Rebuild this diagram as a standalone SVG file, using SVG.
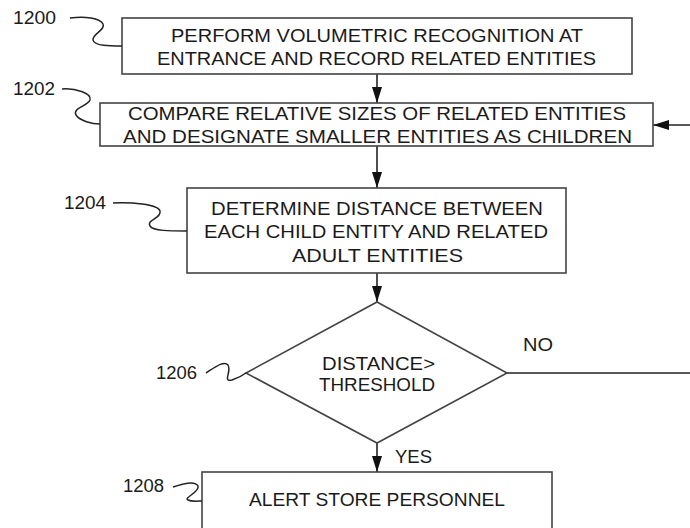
<svg xmlns="http://www.w3.org/2000/svg" width="690" height="528" viewBox="0 0 690 528">
<defs>
<style>
.box{fill:#fff;stroke:#444;stroke-width:1.6}
.t{font-family:"Liberation Sans",Arial,sans-serif;font-size:19px;fill:#1a1a1a}
.lbl{font-family:"Liberation Sans",Arial,sans-serif;font-size:18px;fill:#1a1a1a}
.ln{fill:none;stroke:#222;stroke-width:1.6}
.lead{fill:none;stroke:#222;stroke-width:1.5}
</style>
<marker id="ah" viewBox="0 0 16 10" refX="16" refY="5" markerWidth="16" markerHeight="10" markerUnits="userSpaceOnUse" orient="auto">
<path d="M0,0 L16,5 L0,10 Z" fill="#111"/>
</marker>
</defs>
<rect width="690" height="528" fill="#fff"/>
<g id="connectors">
<line class="ln" x1="377" y1="74" x2="377" y2="103" marker-end="url(#ah)"/>
<line class="ln" x1="377" y1="146" x2="377" y2="188" marker-end="url(#ah)"/>
<line class="ln" x1="377" y1="273" x2="377" y2="302" marker-end="url(#ah)"/>
<line class="ln" x1="377" y1="443" x2="377" y2="472" marker-end="url(#ah)"/>
<line class="ln" x1="507" y1="373" x2="690" y2="373"/>
<line class="ln" x1="690" y1="125" x2="653" y2="125" marker-end="url(#ah)"/>
<text class="lbl" x="523" y="351" textLength="30" lengthAdjust="spacingAndGlyphs">NO</text>
<text class="lbl" x="395" y="463" textLength="37" lengthAdjust="spacingAndGlyphs">YES</text>
</g>
<g id="n1200">
<rect class="box" x="122" y="18" width="510" height="56"/>
<text class="t" x="171" y="42" textLength="412" lengthAdjust="spacingAndGlyphs">PERFORM VOLUMETRIC RECOGNITION AT</text>
<text class="t" x="157" y="64.5" textLength="439" lengthAdjust="spacingAndGlyphs">ENTRANCE AND RECORD RELATED ENTITIES</text>
<text class="lbl" x="13" y="24" textLength="43" lengthAdjust="spacingAndGlyphs">1200</text>
<path class="lead" d="M70,18 C85,16 100,18 103,24 C106,30 92,34 93,40 C94,46 110,46 122,46"/>
</g>
<g id="n1202">
<rect class="box" x="100" y="103" width="553" height="43"/>
<text class="t" x="128" y="120" textLength="498" lengthAdjust="spacingAndGlyphs">COMPARE RELATIVE SIZES OF RELATED ENTITIES</text>
<text class="t" x="123" y="142.5" textLength="509" lengthAdjust="spacingAndGlyphs">AND DESIGNATE SMALLER ENTITIES AS CHILDREN</text>
<text class="lbl" x="13" y="95" textLength="42" lengthAdjust="spacingAndGlyphs">1202</text>
<path class="lead" d="M62,89 C75,88 92,93 90,100 C88,106 72,108 76,115 C80,121 92,124 100,124"/>
</g>
<g id="n1204">
<rect class="box" x="187" y="188" width="379" height="85"/>
<text class="t" x="211" y="215" textLength="332" lengthAdjust="spacingAndGlyphs">DETERMINE DISTANCE BETWEEN</text>
<text class="t" x="204" y="238.3" textLength="344" lengthAdjust="spacingAndGlyphs">EACH CHILD ENTITY AND RELATED</text>
<text class="t" x="292" y="261.7" textLength="171" lengthAdjust="spacingAndGlyphs">ADULT ENTITIES</text>
<text class="lbl" x="64" y="209" textLength="42" lengthAdjust="spacingAndGlyphs">1204</text>
<path class="lead" d="M113,203 C130,202 158,204 160,211 C162,218 146,220 150,226 C153,231 170,231 187,231"/>
</g>
<g id="n1206">
<polygon class="box" points="377,302 507,373 377,443 246,373"/>
<text class="t" x="322" y="370" textLength="113" lengthAdjust="spacingAndGlyphs">DISTANCE&gt;</text>
<text class="t" x="319" y="391" textLength="116" lengthAdjust="spacingAndGlyphs">THRESHOLD</text>
<text class="lbl" x="156" y="379" textLength="41" lengthAdjust="spacingAndGlyphs">1206</text>
<path class="lead" d="M206,373 C214,368 224,360 228,365 C232,372 222,382 232,380 C238,378 242,376 246,373"/>
</g>
<g id="n1208">
<rect class="box" x="202" y="472" width="350" height="70"/>
<text class="t" x="249" y="506" textLength="256" lengthAdjust="spacingAndGlyphs">ALERT STORE PERSONNEL</text>
<text class="lbl" x="123" y="492" textLength="41" lengthAdjust="spacingAndGlyphs">1208</text>
<path class="lead" d="M173,487 C182,484 195,480 198,486 C200,492 183,498 188,500 C192,502 198,501 202,501"/>
</g>
</svg>
